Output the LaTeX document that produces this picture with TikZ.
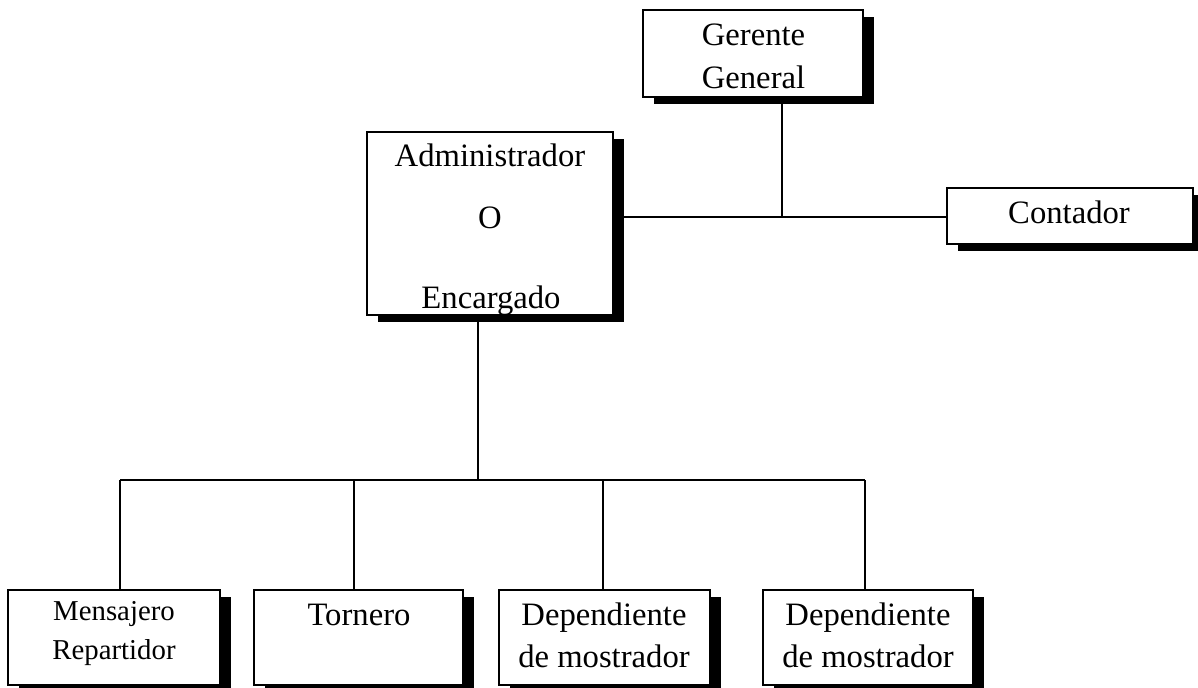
\documentclass[tikz,border=0pt]{standalone}
\usepackage{fontspec}
\setmainfont{Liberation Serif}
\usetikzlibrary{shadows}
\begin{document}
\begin{tikzpicture}[x=0.75pt,y=-0.75pt,
  orgbox/.style={draw, line width=1.25pt, fill=white, inner sep=0pt,
    general shadow={fill=black, shadow xshift=8.25pt, shadow yshift=-5.25pt}},
  link/.style={line width=1.6pt},
  lbl/.style={anchor=base, inner sep=0pt, font=\fontsize{24.5}{28}\selectfont},
  lblsmall/.style={anchor=base, inner sep=0pt, font=\fontsize{21.6}{26}\selectfont}]
\useasboundingbox (0,0) rectangle (1198,687);

% boxes
\node[orgbox, minimum width=165pt, minimum height=65.25pt] (G) at (753,53.5) {};
\node[orgbox, minimum width=184.5pt, minimum height=137.25pt] (A) at (490,223.5) {};
\node[orgbox, minimum width=184.5pt, minimum height=42pt] (C) at (1070,216) {};
\node[orgbox, minimum width=159pt, minimum height=71.25pt] (M) at (114,637.5) {};
\node[orgbox, minimum width=156.75pt, minimum height=71.25pt] (T) at (358.5,637.5) {};
\node[orgbox, minimum width=158.25pt, minimum height=71.25pt] (D1) at (604.5,637.5) {};
\node[orgbox, minimum width=157.5pt, minimum height=71.25pt] (D2) at (868,637.5) {};

% labels
\node[lbl] (g1) at (753.5,45) {Gerente};
\node[lbl] (g2) at (753.5,88) {General};
\node[lbl] (a1) at (490,166) {Administrador};
\node[lbl] (a2) at (490,228) {O};
\node[lbl] (a3) at (491,308) {Encargado};
\node[lbl] (c1) at (1069,223) {Contador};
\node[lblsmall] (m1) at (114,620) {Mensajero};
\node[lblsmall] (m2) at (114,659) {Repartidor};
\node[lbl] (t1) at (359,625) {Tornero};
\node[lbl] (d11) at (604,625) {Dependiente};
\node[lbl] (d12) at (604,667) {de mostrador};
\node[lbl] (d21) at (868,625) {Dependiente};
\node[lbl] (d22) at (868,667) {de mostrador};

% junctions
\coordinate (J) at (782,217);
\coordinate (H) at (478,480);
\coordinate (b1) at (120,480);
\coordinate (b2) at (354,480);
\coordinate (b3) at (603,480);
\coordinate (b4) at (865,480);

% connectors
\draw[link] (G.south -| J) -- (J);
\draw[link] (A.east |- J) -- (C.west |- J);
\draw[link] (A.south -| H) -- (H);
\draw[link] (b1) -- (b4);
\draw[link] (b1) -- (b1 |- M.north);
\draw[link] (b2) -- (b2 |- T.north);
\draw[link] (b3) -- (b3 |- D1.north);
\draw[link] (b4) -- (b4 |- D2.north);
\end{tikzpicture}
\end{document}
